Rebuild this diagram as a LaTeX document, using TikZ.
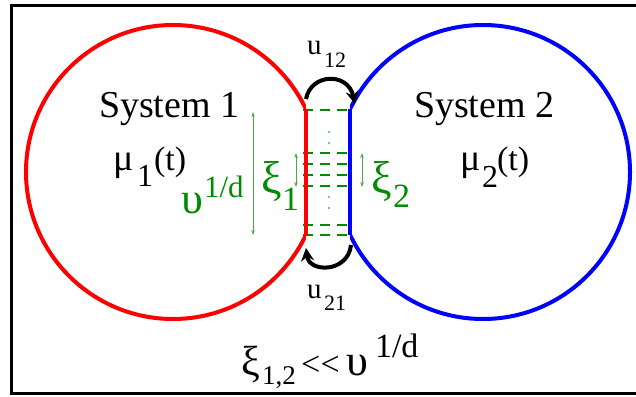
\documentclass[tikz,border=0pt]{standalone}
\usepackage{fontspec}
\setmainfont{Liberation Serif}
\usetikzlibrary{arrows.meta}
\definecolor{gtext}{RGB}{0,140,0}
\definecolor{garrow}{RGB}{70,170,70}
\begin{document}
\begin{tikzpicture}[x=1pt,y=-1pt,
  txt/.style={inner sep=0pt, outer sep=0pt, anchor=base west},
  big/.style={font=\fontsize{38}{40}\selectfont},
  mid/.style={font=\fontsize{34}{36}\selectfont},
  digf/.style={font=\fontsize{32}{34}\selectfont},
  greekf/.style={font=\fontsize{38}{40}\selectfont},
  greekL/.style={font=\fontsize{44}{46}\selectfont},
  xif/.style={font=\fontsize{46}{48}\selectfont},
  supf/.style={font=\fontsize{31}{33}\selectfont},
  subf/.style={font=\fontsize{27}{29}\selectfont},
  small/.style={font=\fontsize{29}{31}\selectfont},
  tiny/.style={font=\fontsize{22}{24}\selectfont},
  wall/.style={line width=4pt},
  link/.style={line width=4pt, -{Stealth[length=13pt,width=13pt]}},
  span/.style={garrow, line width=0.9pt, {Stealth[length=5pt,width=3.5pt]}-{Stealth[length=5pt,width=3.5pt]}},
  bond/.style={gtext, line width=2pt, dash pattern=on 10pt off 7pt}]
\useasboundingbox (0,0) rectangle (636,396);
% frame
\draw[line width=3pt] (11,6) rectangle (660,393);
% bonds
\foreach \yy in {110,153,164,175,186,225,235}
  \draw[bond] (303,\yy) -- (350,\yy);
\foreach \yy in {132,143,197,208}
  \fill[gtext] (329,\yy) circle[radius=0.8];
% red system
\begin{scope}
  \clip (0,0) rectangle (305.8,396);
  \draw[red,wall] (173,172) circle[radius=147];
\end{scope}
\draw[red,wall] (305.8,109) -- (305.8,235);
% blue system
\begin{scope}
  \clip (350.2,0) rectangle (700,396);
  \draw[blue,wall] (483,172) circle[radius=147];
\end{scope}
\draw[blue,wall] (350.2,109) -- (350.2,235);
% curved arrows
\coordinate (a12s) at (306,99);
\coordinate (a12e) at (355,104);
\coordinate (a21s) at (351,245);
\coordinate (a21e) at (306,248);
\draw[link] (a12s) .. controls (311,73) and (348,72) .. (a12e);
\draw[link] (a21s) .. controls (348,273) and (309,273) .. (a21e);
% green spans
\coordinate (l1) at (253,112); \coordinate (l2) at (253,235);
\coordinate (x1a) at (296,153); \coordinate (x1b) at (296,187);
\coordinate (x2a) at (362,153); \coordinate (x2b) at (362,187);
\draw[span] (l1) -- (l2);
\draw[span] (x1a) -- (x1b);
\draw[span] (x2a) -- (x2b);
% labels
\node[txt,big] (s1) at (99,117) {System 1};
\node[txt,big] (s2) at (414,117) {System 2};
\node[txt,greekf] (mu1) at (113,170) {μ};
\node[txt,digf] (mu1s) at (137,186) {1};
\node[txt,mid] (mu1t) at (154,170) {(t)};
\node[txt,greekf] (mu2) at (460,170) {μ};
\node[txt,digf] (mu2s) at (482,187) {2};
\node[txt,mid] (mu2t) at (497,170) {(t)};
\node[txt,greekL,text=gtext] (ups) at (181,213) {υ};
\node[txt,supf,text=gtext] (upsx) at (204,197) {1/d};
\node[txt,xif,text=gtext] (xi1) at (261,193) {ξ};
\node[txt,mid,text=gtext] (xi1s) at (282,210) {1};
\node[txt,xif,text=gtext] (xi2) at (371,193) {ξ};
\node[txt,mid,text=gtext] (xi2s) at (393,207) {2};
\node[txt,small] (u12) at (307,55) {u};
\node[txt,tiny] (u12s) at (324,67) {12};
\node[txt,small] (u21) at (307,298) {u};
\node[txt,tiny] (u21s) at (324,310) {21};
\node[txt,font=\fontsize{42}{44}\selectfont] (bxi) at (241,375) {ξ};
\node[txt,subf] (bxis) at (262,384) {1,2};
\node[txt,mid] (blt) at (301,375) {<\kern0.5pt<};
\node[txt,greekL] (bups) at (346,375) {υ};
\node[txt,mid] (bupsx) at (375,357) {1/d};
\end{tikzpicture}
\end{document}
